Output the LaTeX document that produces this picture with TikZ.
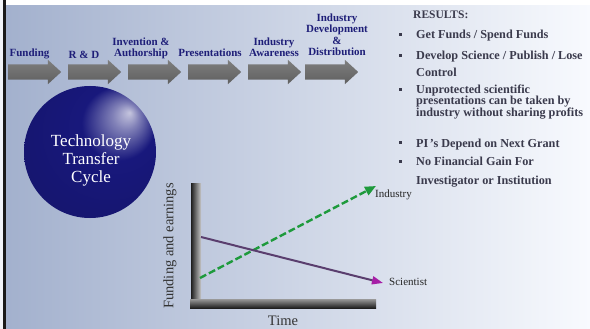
\documentclass[tikz,border=0pt]{standalone}
\usepackage{fontspec}
\setmainfont{Liberation Serif}
\usetikzlibrary{shapes.arrows,arrows.meta}
\definecolor{bgL}{HTML}{A2B0CD}
\definecolor{bgR}{HTML}{F8FAFE}
\definecolor{lbl}{HTML}{1E1E78}
\definecolor{res}{HTML}{3A3A4C}
\definecolor{arrg}{HTML}{707070}
\definecolor{grn}{HTML}{1E9A3C}
\definecolor{plin}{HTML}{5A3E6E}
\definecolor{mag}{HTML}{A61EA6}
\definecolor{navyb}{HTML}{18187C}
\pgfdeclareradialshading{tsphere}{\pgfpoint{15bp}{15bp}}{color(0bp)=(white!75!navyb); color(5bp)=(white!45!navyb); color(14bp)=(navyb); color(36bp)=(navyb!88!black); color(50bp)=(navyb!55!black)}
\tikzset{
  flowarrow/.style={single arrow, top color=arrg!90!white, bottom color=arrg!85!black, draw=none,
    minimum height=53pt, minimum width=0pt, inner xsep=0pt, inner ysep=7.5pt,
    single arrow head extend=4.5pt, single arrow tip angle=85, anchor=tail},
  toplbl/.style={font=\bfseries\fontsize{11}{11.5}\selectfont, text=lbl, align=center,
    inner sep=0pt, text depth=0pt, anchor=south},
  reshead/.style={font=\bfseries\fontsize{11.5}{12}\selectfont, text=res, inner sep=0pt, anchor=base west},
  resline/.style={font=\bfseries\fontsize{12.2}{12}\selectfont, text=res, inner sep=0pt, anchor=base west},
  bullet/.style={fill=res, inner sep=0pt, minimum size=3pt},
  chartlbl/.style={font=\fontsize{11}{11}\selectfont, text=black!85, inner sep=0pt, anchor=base west},
  axislbl/.style={font=\fontsize{14.5}{14.5}\selectfont, text=black!80, inner sep=0pt},
}
\begin{document}
\begin{tikzpicture}[x=1pt,y=-1pt]
\useasboundingbox (0,0) rectangle (590,329);
% background
\shade[left color=bgL, right color=bgR] (0,0) rectangle (590,329);
\fill[white] (0,0) rectangle (590,5);
\fill[white!85!bgL] (0,0) rectangle (2.7,329);
\fill[black!90] (2.7,0) rectangle (6,329);
% top flow arrows
\node[flowarrow] (a1) at (8,72) {};
\node[flowarrow] (a2) at (68,72) {};
\node[flowarrow] (a3) at (128,72) {};
\node[flowarrow] (a4) at (188,72) {};
\node[flowarrow] (a5) at (248,72) {};
\node[flowarrow] (a6) at (305,72) {};
% labels
\node[toplbl] (l1) at (29.5,57) {Funding};
\node[toplbl] (l2) at (84,59) {R \& D};
\node[toplbl] (l3) at (141,57) {Invention \&\\Authorship};
\node[toplbl] (l4) at (210,57) {Presentations};
\node[toplbl] (l5) at (274,57) {Industry\\Awareness};
\node[toplbl] (l6) at (337,56) {Industry\\Development\\\&\\Distribution};
% sphere
\path[shading=tsphere] (90,152) circle[radius=66];
\node[font=\fontsize{17}{18}\selectfont, text=white, align=center, inner sep=0pt, text depth=0pt, anchor=south]
  (ttc) at (91,183) {Technology\\Transfer\\Cycle};
% results
\node[reshead] (rh) at (413,19) {RESULTS:};
\node[bullet] (b1) at (400.5,35) {};
\node[resline] (r1) at (416,39) {Get Funds / Spend Funds};
\node[bullet] (b2) at (400.5,56) {};
\node[resline] (r2a) at (416,60) {Develop Science / Publish / Lose};
\node[resline] (r2b) at (416,76.5) {Control};
\node[bullet] (b3) at (400.5,89.5) {};
\node[resline] (r3a) at (416,93.5) {Unprotected scientific};
\node[resline] (r3b) at (416,105) {presentations can be taken by};
\node[resline] (r3c) at (416,116.5) {industry without sharing profits};
\node[bullet] (b4) at (400.5,143) {};
\node[resline] (r4) at (416,147) {PI\kern1.5pt’s Depend on Next Grant};
\node[bullet] (b5) at (400.5,162) {};
\node[resline] (r5a) at (416,166) {No Financial Gain For};
\node[resline] (r5b) at (416,185) {Investigator or Institution};
% chart axes
\shade[left color=black!88, right color=black!22] (191,183) rectangle (201,299);
\shade[top color=black!40, bottom color=black!88] (190,299) rectangle (376,308);
\node[axislbl, rotate=90] (ylab) at (170,246) {Funding and earnings};
\node[axislbl, anchor=base] (xlab) at (283,325) {Time};
% chart lines
\node[chartlbl] (ind) at (375,197) {Industry};
\node[chartlbl] (sci) at (389,285) {Scientist};
\coordinate (gs) at (200,278);
\coordinate (ge) at (376,186);
\coordinate (ps) at (201,237);
\coordinate (pe) at (383,283);
\draw[grn, line width=2.4pt, dash pattern=on 7pt off 3pt, -{Triangle[length=11pt,width=9pt,fill=grn]}] (gs) -- (ge);
\draw[plin, line width=2pt, -{Triangle[length=11pt,width=8pt,color=mag,fill=mag]}] (ps) -- (pe);
\end{tikzpicture}
\end{document}
